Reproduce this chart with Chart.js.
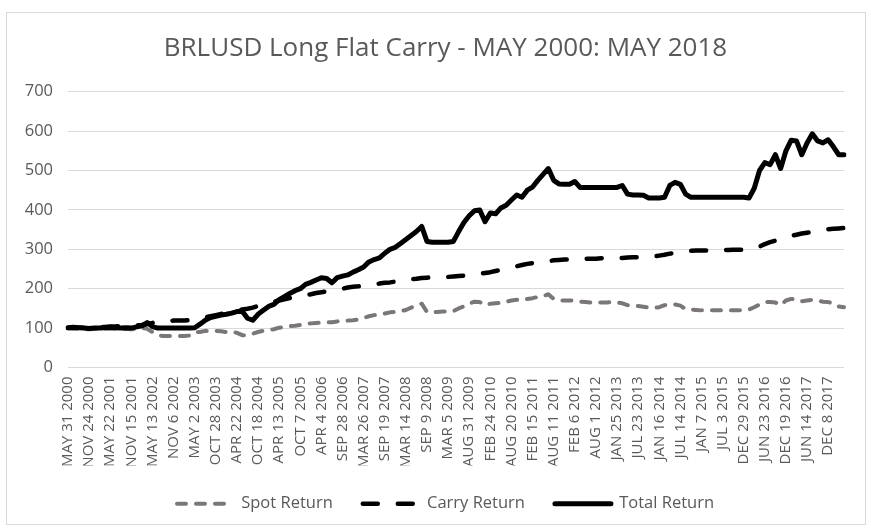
<!DOCTYPE html>
<html>
<head>
<meta charset="utf-8">
<script src="https://cdn.jsdelivr.net/npm/chart.js@4.4.1/dist/chart.umd.min.js"></script>
<style>
html,body{margin:0;padding:0;background:#fff;}
#wrap{position:relative;width:871px;height:531px;overflow:hidden;}
#frame{position:absolute;left:6px;top:12px;width:860px;height:513px;border:1px solid #d9d9d9;box-sizing:border-box;}
#c{position:absolute;left:0;top:0;}
</style>
</head>
<body>
<div id="wrap"><div id="frame"></div><canvas id="c" width="871" height="531"></canvas></div>
<script>
// Axis tick labels (one every half year of trading days)
const tickLabels = [
  'MAY 31 2000','NOV 24 2000','MAY 22 2001','NOV 15 2001','MAY 13 2002','NOV 6 2002',
  'MAY 2 2003','OCT 28 2003','APR 22 2004','OCT 18 2004','APR 13 2005','OCT 7 2005',
  'APR 4 2006','SEP 28 2006','MAR 26 2007','SEP 19 2007','MAR 14 2008','SEP 9 2008',
  'MAR 5 2009','AUG 31 2009','FEB 24 2010','AUG 20 2010','FEB 15 2011','AUG 11 2011',
  'FEB 6 2012','AUG 1 2012','JAN 25 2013','JUL 23 2013','JAN 16 2014','JUL 14 2014',
  'JAN 7 2015','JUL 3 2015','DEC 29 2015','JUN 23 2016','DEC 19 2016','JUN 14 2017',
  'DEC 8 2017'
];
// samples per labelled interval
const samplesPerTick = 4;

const spotReturn = [
  100, 99, 98, 97, 97, 98, 98, 98, 99, 98, 97, 98, 97, 98,
  100, 98, 90,
  82, 80, 80, 80, 80, 80, 81, 90,
  90, 93, 92, 93, 92, 90, 91, 88,
  82, 82, 86, 90, 93, 95, 97, 101,
  103, 105, 106, 108, 110, 112, 113, 114,
  115, 115, 117, 118, 119, 120, 122, 126,
  130, 133, 135, 137, 140, 141, 143, 146,
  152, 157, 162, 141, 140, 141, 142, 142,
  143, 150, 155, 162, 167, 166, 158, 162,
  163, 164, 167, 170, 172, 171, 174, 176,
  179, 181, 186, 174, 171, 170, 170, 170,
  167, 166, 165, 165, 165, 165, 166, 165,
  163, 158, 156, 156, 154, 152, 152, 153,
  158, 160, 160, 157, 148, 147, 146, 145,
  145, 145, 145, 145, 145, 145, 145, 146,
  147, 153, 160, 166, 166, 165, 158, 170,
  174, 173, 168, 170, 172, 170, 167, 166,
  163, 155, 153
];

const carryReturn = [
  100, 100, 101, 101, 102, 102, 103, 103, 104, 104, 105, 105, 106,
  107, 108, 110, 113,
  117, 118, 118, 119, 119, 119, 120, 121,
  124, 127, 130, 133, 136, 139, 142, 145,
  147, 149, 152, 156, 160, 164, 167, 170,
  173, 176, 179, 182, 184, 186, 189, 191,
  193, 195, 197, 200, 203, 205, 206, 208,
  210, 212, 213, 215, 216, 218, 220, 222,
  224, 225, 227, 228, 229, 229, 230, 230,
  231, 232, 233, 234, 236, 238, 240, 242,
  245, 248, 251, 254, 257, 260, 263, 265,
  267, 269, 270, 272, 273, 274, 274, 275,
  275, 276, 276, 276, 277, 277, 277, 278,
  278, 279, 280, 280, 281, 282, 282, 284,
  286, 289, 291, 293, 295, 296, 297, 297,
  297, 298, 298, 298, 298, 299, 299, 299,
  300, 302, 307, 313, 318, 322, 326, 330,
  334, 337, 340, 342, 344, 347, 349, 351,
  352, 353, 354
];

const totalReturn = [
  101, 102, 101, 100, 99, 100, 100, 101, 102, 101, 100, 101, 100,
  103, 106, 114, 104,
  100, 100, 100, 100, 100, 100, 100, 101,
  110, 120, 127, 130, 133, 135, 138, 142,
  143, 125, 120, 135, 145, 155, 160, 172,
  180, 188, 195, 200, 211, 216, 222, 228,
  226, 215, 228, 232, 235, 242, 248, 255,
  268, 274, 278, 290, 300, 305, 315, 325,
  335, 345, 358, 320, 318, 318, 318, 318,
  320, 345, 368, 385, 398, 400, 370, 392,
  390, 405, 412, 425, 438, 432, 450, 458,
  475, 490, 505, 475, 466, 465, 465, 472,
  457, 457, 457, 457, 457, 457, 457, 457,
  462, 440, 438, 438, 437, 430, 430, 430,
  432, 462, 470, 465, 440, 432, 432, 432,
  432, 432, 432, 432, 432, 432, 432, 432,
  430, 455, 500, 520, 515, 540, 505, 550,
  577, 575, 540, 570, 593, 575, 570, 578,
  560, 540, 540
];

const seriesNames = ['Spot Return', 'Carry Return', 'Total Return'];
const chartTitle = 'BRLUSD Long Flat Carry - MAY 2000: MAY 2018';

const categories = spotReturn.map((_, i) =>
  i % samplesPerTick === 0 ? (tickLabels[i / samplesPerTick] || '') : '');

const FONT = 'Open Sans';
const TXT = '#595959';

// The original centres title and legend a little right of the canvas centre
const centreShift = {
  id: 'centreShift',
  afterLayout(chart) {
    [chart.titleBlock, chart.legend].forEach((b) => {
      if (b) { b.left += 16; b.right += 16; }
    });
  }
};

new Chart(document.getElementById('c'), {
  type: 'line',
  data: {
    labels: categories,
    datasets: [
      {
        label: seriesNames[0], data: spotReturn, order: 2,
        borderColor: '#7b7777', backgroundColor: '#7b7777',
        borderWidth: 4, borderDash: [9, 10], borderCapStyle: 'round', borderJoinStyle: 'round',
        pointRadius: 0, pointStyle: 'line', tension: 0, fill: false
      },
      {
        label: seriesNames[1], data: carryReturn, order: 1,
        borderColor: '#000000', backgroundColor: '#000000',
        borderWidth: 4.5, borderDash: [15, 20], borderCapStyle: 'round', borderJoinStyle: 'round',
        pointRadius: 0, pointStyle: 'line', tension: 0, fill: false
      },
      {
        label: seriesNames[2], data: totalReturn, order: 0,
        borderColor: '#000000', backgroundColor: '#000000',
        borderWidth: 5, borderCapStyle: 'round', borderJoinStyle: 'round',
        pointRadius: 0, pointStyle: 'line', tension: 0, fill: false
      }
    ]
  },
  plugins: [centreShift],
  options: {
    responsive: false,
    animation: false,
    devicePixelRatio: 1,
    layout: { padding: { left: 0, right: 12, top: 0, bottom: 9 } },
    plugins: {
      title: {
        display: true, text: chartTitle, color: TXT,
        font: { family: FONT, size: 26, weight: 'normal' },
        padding: { top: 33, bottom: 27.5 }
      },
      legend: {
        position: 'bottom',
        labels: {
          usePointStyle: true, pointStyleWidth: 56, padding: 30, color: TXT,
          font: { family: FONT, size: 16.5 },
          generateLabels: (chart) => chart.data.datasets.map((ds, i) => ({
            text: ds.label, datasetIndex: i, hidden: false,
            fillStyle: ds.borderColor, strokeStyle: ds.borderColor,
            lineWidth: ds.borderWidth, lineDash: ds.borderDash || [],
            lineCap: 'round', lineJoin: 'round', pointStyle: 'line', fontColor: TXT
          }))
        }
      },
      tooltip: { enabled: false }
    },
    scales: {
      x: {
        grid: { display: false, drawTicks: false },
        border: { display: false },
        ticks: {
          autoSkip: false, maxRotation: 90, minRotation: 90, padding: 9,
          color: TXT, font: { family: FONT, size: 15 }
        },
        afterFit: (s) => { s.height = 98; }
      },
      y: {
        min: 0, max: 700,
        grid: { color: '#d9d9d9', lineWidth: 1, drawTicks: false },
        border: { display: false },
        ticks: { stepSize: 100, padding: 15, color: TXT, font: { family: FONT, size: 16.5 } },
        afterFit: (s) => { s.width = 68; }
      }
    }
  }
});
</script>
</body>
</html>
